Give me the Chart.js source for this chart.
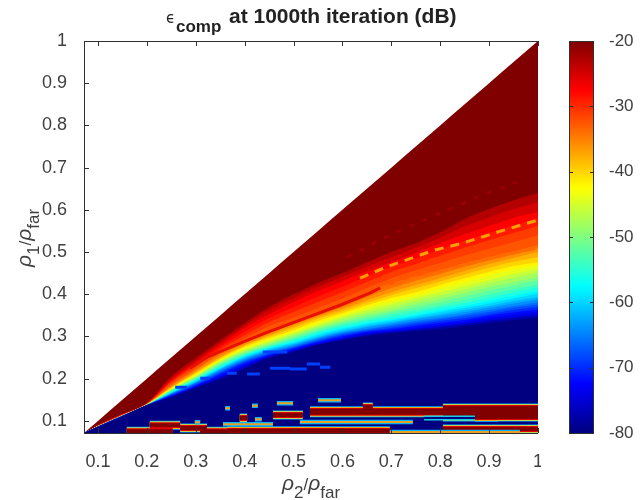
<!DOCTYPE html>
<html><head><meta charset="utf-8">
<script src="https://cdn.jsdelivr.net/npm/chart.js@4"></script>
<style>html,body{margin:0;padding:0;background:#fff;overflow:hidden}
canvas{position:absolute;top:0;filter:blur(0.4px)}#m{left:0}#c{left:541px}</style></head>
<body><canvas id="m" width="541" height="500"></canvas><canvas id="c" width="100" height="500"></canvas>
<script>
const xTicks=[0.1,0.2,0.3,0.4,0.5,0.6,0.7,0.8,0.9,1];
const yTicks=[0.1,0.2,0.3,0.4,0.5,0.6,0.7,0.8,0.9,1];
const cbarTicks=[-80,-70,-60,-50,-40,-30,-20];
const columns=[0.0714,0.1,0.15,0.2,0.25,0.3,0.35,0.4,0.45,0.5,0.55,0.6,0.65,0.7,0.75,0.8,0.85,0.9,0.95,1];
const diagonal=[0.0714,0.1,0.15,0.2,0.25,0.3,0.35,0.4,0.45,0.5,0.55,0.6,0.65,0.7,0.75,0.8,0.85,0.9,0.95,1];
const levelDb=[-23,-25,-27.5,-29,-31,-32.5,-34,-36,-38,-40,-42,-44,-46,-48,-50,-52,-54,-56,-58,-60,-62,-64,-66,-68,-70,-72,-74,-77,-80];
const c23=[.0714,.090,.116,.142,.206,.249,.291,.332,.370,.400,.427,.450,.476,.500,.521,.547,.578,.602,.623,.640];
const c25=[.0714,.090,.116,.142,.202,.244,.286,.326,.362,.391,.418,.441,.466,.488,.510,.534,.561,.582,.602,.618];
const c27=[.0714,.090,.116,.142,.197,.239,.280,.320,.353,.382,.408,.431,.455,.476,.498,.521,.543,.562,.581,.595];
const c29=[.0714,.089,.115,.141,.195,.236,.275,.312,.344,.370,.395,.418,.442,.465,.485,.506,.527,.545,.563,.579];
const c31=[.0714,.088,.114,.140,.192,.232,.270,.303,.334,.358,.382,.405,.429,.453,.472,.491,.510,.528,.545,.562];
const c32=[.0714,.088,.114,.140,.189,.228,.266,.295,.324,.345,.368,.390,.415,.438,.457,.474,.492,.508,.524,.540];
const c34=[.0714,.088,.114,.140,.185,.223,.261,.287,.313,.332,.353,.374,.400,.422,.441,.457,.474,.488,.502,.517];
const c36=[.0714,.088,.114,.140,.183,.220,.256,.284,.308,.329,.350,.370,.393,.414,.432,.448,.465,.480,.494,.509];
const c38=[.0714,.088,.113,.139,.180,.216,.251,.280,.303,.325,.346,.365,.386,.405,.422,.438,.455,.472,.486,.500];
const c40=[.0714,.088,.113,.139,.179,.214,.249,.278,.300,.320,.342,.360,.380,.398,.414,.430,.447,.463,.477,.488];
const c42=[.0714,.088,.113,.139,.178,.211,.246,.275,.296,.315,.337,.355,.374,.391,.405,.422,.438,.453,.467,.476];
const c44=[.0714,.088,.113,.139,.177,.209,.244,.272,.293,.312,.332,.351,.369,.384,.398,.414,.429,.444,.458,.468];
const c46=[.0714,.088,.113,.139,.175,.206,.242,.268,.289,.308,.327,.346,.363,.377,.391,.405,.419,.434,.448,.460];
const c48=[.0714,.087,.112,.138,.174,.205,.240,.266,.286,.305,.324,.342,.357,.370,.384,.397,.411,.426,.439,.451];
const c50=[.0714,.087,.112,.138,.173,.204,.237,.263,.282,.301,.320,.337,.351,.363,.377,.389,.403,.417,.429,.441];
const c52=[.0714,.087,.112,.138,.172,.202,.235,.261,.280,.298,.317,.333,.346,.358,.370,.382,.395,.409,.421,.433];
const c54=[.0714,.087,.112,.138,.171,.199,.232,.258,.277,.294,.313,.329,.341,.353,.363,.374,.386,.400,.412,.424];
const c56=[.0714,.087,.112,.138,.170,.198,.230,.256,.275,.291,.310,.325,.337,.347,.357,.369,.379,.392,.404,.416];
const c58=[.0714,.087,.112,.138,.168,.197,.227,.254,.273,.287,.306,.320,.332,.341,.351,.363,.372,.384,.396,.408];
const c60=[.0714,.087,.112,.138,.167,.195,.225,.252,.271,.285,.303,.317,.329,.338,.348,.358,.368,.378,.390,.401];
const c62=[.0714,.087,.112,.138,.166,.192,.223,.249,.268,.282,.299,.313,.325,.334,.344,.353,.363,.372,.384,.393];
const c64=[.0714,.087,.112,.138,.165,.191,.221,.247,.266,.280,.297,.311,.322,.331,.341,.349,.358,.368,.378,.388];
const c66=[.0714,.087,.112,.137,.164,.190,.218,.244,.263,.277,.294,.308,.318,.327,.337,.344,.353,.363,.372,.382];
const c68=[.0714,.087,.112,.137,.163,.188,.216,.242,.261,.275,.292,.306,.316,.324,.333,.341,.349,.358,.368,.376];
const c70=[.0714,.086,.111,.137,.161,.185,.213,.239,.258,.273,.289,.303,.313,.320,.329,.337,.344,.353,.363,.370];
const c72=[.0714,.086,.111,.137,.160,.184,.210,.236,.256,.271,.287,.300,.311,.317,.325,.332,.339,.349,.357,.364];
const c74=[.0714,.086,.111,.137,.159,.182,.206,.232,.254,.268,.284,.296,.308,.313,.320,.327,.334,.344,.351,.358];
const c77=[.0714,.086,.111,.137,.158,.180,.203,.228,.252,.266,.282,.294,.305,.311,.317,.323,.330,.338,.345,.351];
const c80=[.0714,.086,.111,.137,.156,.178,.199,.223,.249,.263,.280,.292,.301,.308,.313,.318,.325,.332,.339,.344];
const contours=[c23,c25,c27,c29,c31,c32,c34,c36,c38,c40,c42,c44,c46,c48,c50,c52,c54,c56,c58,c60,c62,c64,c66,c68,c70,c72,c74,c77,c80];
// ridges inside the gradient: [x,y]
const ridgeBright=[[.636,.438],[.691,.465],[.789,.505],[.846,.521],[.916,.547],[1,.576]];
const ridgeOrange=[[.677,.415],[.744,.438],[.834,.465],[.908,.488],[1,.51]];
const ridgeRed=[[.288,.225],[.323,.251],[.397,.287],[.446,.310],[.513,.339],[.595,.374],[.656,.403],[.677,.415]];
const ridgeFaint=[[.609,.488],[.697,.540],[.799,.592],[.887,.635],[.957,.666]];
// dashes and patches: [x0,x1,y]
const blueDashes=[[.364,.384,.213],[.405,.431,.211],[.452,.493,.225],[.493,.527,.223],[.527,.554,.235],[.554,.575,.227],[.309,.329,.201],[.258,.282,.180],[.437,.487,.263]];
const thinPatches=[[.513,.744,.0972],[.3557,.458,.0924],[.550,.597,.149],[.466,.499,.142],[.421,.435,.104],[.298,.309,.097],[.697,.963,.0735],[.415,.427,.136],[.360,.370,.130]];
const redPatches=[[.364,.697,.077],[.8056,1,.0806],[.871,.918,.109],[.159,.253,.0758],[.309,.364,.0758],[.206,.268,.090],[.268,.323,.083],[.458,.519,.114],[.390,.405,.107],[.642,.662,.133]];
const midPatches=[[.5336,.8056,.1220]];
const wideBand=[[.8056,1,.1197]];
const holeBand=[[.767,.871,.107]];

function jet(db){const t=(db+80)/60;const f=v=>Math.round(255*Math.max(0,Math.min(1,1.5-Math.abs(4*t-v))));return `rgb(${f(3)},${f(2)},${f(1)})`;}
const pts=(ys)=>columns.map((x,i)=>({x,y:ys[i]}));
const segs=(list)=>{const o=[];list.forEach(s=>{o.push({x:s[0],y:s[2]},{x:s[1],y:s[2]},{x:s[1],y:null});});return o;};
const pairs=l=>l.map(p=>({x:p[0],y:p[1]}));
const layers=[];
const fillLayer=(data,color)=>layers.push({data,fill:'start',backgroundColor:color,borderWidth:0,pointRadius:0,cubicInterpolationMode:'monotone'});
const lineLayer=(data,color,w,dash)=>layers.push({data,fill:false,borderColor:color,borderWidth:w,borderDash:dash||[],borderCapStyle:'butt',pointRadius:0,spanGaps:false});
fillLayer(pts(diagonal),jet(-20));
contours.forEach((c,i)=>fillLayer(pts(c),jet(levelDb[i])));
lineLayer(pairs(ridgeFaint),'#a00000',2,[5,9]);
lineLayer(pairs(ridgeBright),'#ffa000',3,[9,7]);
lineLayer(pairs(ridgeOrange),'#ff6a00',3,[10,5]);
lineLayer(pairs(ridgeRed),'#e81000',3);
lineLayer(segs(blueDashes),'#0040ff',3);
[[wideBand,14],[midPatches,7],[redPatches,5]].forEach(([l,w])=>lineLayer(segs(l),'#00b4ff',w+4));
[[wideBand,14],[midPatches,7],[redPatches,5]].forEach(([l,w])=>lineLayer(segs(l),'#f0e020',w+2.5));
[[wideBand,14],[midPatches,7],[redPatches,5]].forEach(([l,w])=>lineLayer(segs(l),'#e80000',w+1));
[[wideBand,14],[midPatches,7],[redPatches,5]].forEach(([l,w])=>lineLayer(segs(l),'#800000',w-1));
lineLayer(segs(holeBand),'#10d0e0',5);
lineLayer(segs(holeBand),'#000080',2);
lineLayer(segs(thinPatches),'#00b4ff',4.5);
lineLayer(segs(thinPatches),'#e8a020',2);
const ordered=layers.slice().reverse();

const INK='#404040',FONT='"Liberation Sans",Arial,sans-serif';
function text(ctx,s,x,y,font,color){ctx.font=font;ctx.fillStyle=color;ctx.fillText(s,x,y);return ctx.measureText(s).width;}
function ratioLabel(ctx,num,x,y){
  let p=x;
  p+=text(ctx,'ρ',p,y,'italic 21px '+FONT,INK);
  p+=text(ctx,num,p,y+8,'17px '+FONT,INK);
  p+=text(ctx,'/',p,y,'17px '+FONT,INK);
  p+=text(ctx,'ρ',p,y,'italic 21px '+FONT,INK);
  text(ctx,'far',p,y+8,'17px '+FONT,INK);
}
const frame={id:'frame',afterDatasetsDraw(ch){
  const {ctx,chartArea:a,scales:{x,y}}=ch;ctx.save();
  ctx.strokeStyle='#303030';ctx.lineWidth=1;ctx.beginPath();
  ctx.moveTo(a.left+.5,a.bottom);ctx.lineTo(a.left+.5,a.top+.5);ctx.lineTo(a.right,a.top+.5);
  ctx.moveTo(a.left,a.bottom+.5);ctx.lineTo(a.right,a.bottom+.5);
  xTicks.forEach(v=>{const p=Math.round(x.getPixelForValue(v))+.5;ctx.moveTo(p,a.top);ctx.lineTo(p,a.top+5);ctx.moveTo(p,a.bottom);ctx.lineTo(p,a.bottom-5);});
  yTicks.forEach(v=>{const p=Math.round(y.getPixelForValue(v))+.5;ctx.moveTo(a.left,p);ctx.lineTo(a.left+5,p);});
  ctx.stroke();
  ctx.textBaseline='alphabetic';ctx.textAlign='left';
  text(ctx,'ϵ',166,23,'15px "DejaVu Sans",'+FONT,'#222');
  text(ctx,'comp',176,32,'bold 17px '+FONT,'#222');
  text(ctx,'at 1000th iteration (dB)',229,23,'bold 21px '+FONT,'#222');
  ratioLabel(ctx,'2',282,490);
  ctx.translate(31,267);ctx.rotate(-Math.PI/2);ratioLabel(ctx,'1',0,0);
  ctx.restore();
}};
new Chart(document.getElementById('m'),{type:'line',data:{datasets:ordered},plugins:[frame],options:{
  responsive:false,animation:false,
  layout:{padding:{top:41,right:3,left:0,bottom:0}},
  plugins:{legend:{display:false},tooltip:{enabled:false},title:{display:false}},
  scales:{
    x:{type:'linear',min:0.0714,max:1,afterFit(s){s.height=67;s.paddingLeft=0;s.paddingRight=0;},afterBuildTicks(s){s.ticks=xTicks.map(value=>({value}));},
      grid:{display:false},border:{display:false},
      ticks:{color:INK,font:{family:FONT,size:18},padding:10,maxRotation:0,autoSkip:false,callback:v=>String(v)}},
    y:{type:'linear',min:0.0714,max:1,afterFit(s){s.width=84;s.paddingTop=0;s.paddingBottom=0;},afterBuildTicks(s){s.ticks=yTicks.map(value=>({value}));},
      grid:{display:false},border:{display:false},
      ticks:{color:INK,font:{family:FONT,size:18},padding:9,autoSkip:false,callback:v=>String(v)}}
  }}});

const cbarBox={id:'cbarBox',afterDatasetsDraw(ch){
  const {ctx,chartArea:a,scales:{y}}=ch;ctx.save();ctx.strokeStyle='#303030';ctx.lineWidth=1;
  ctx.strokeRect(a.left+.5,a.top+.5,a.right-a.left-1,a.bottom-a.top);
  ctx.beginPath();cbarTicks.forEach(v=>{const p=Math.round(y.getPixelForValue(v))+.5;ctx.moveTo(a.right,p);ctx.lineTo(a.right-4,p);ctx.moveTo(a.left,p);ctx.lineTo(a.left+4,p);});ctx.stroke();ctx.restore();
}};
const cbarStops=[-80,-72.5,-57.5,-42.5,-27.5,-20];
new Chart(document.getElementById('c'),{type:'bar',
  data:{labels:['dB'],datasets:[{data:[[-80,-20]],barPercentage:1,categoryPercentage:1,
    backgroundColor(ctx){const a=ctx.chart.chartArea;if(!a)return '#000';
      const g=ctx.chart.ctx.createLinearGradient(0,a.bottom,0,a.top);
      cbarStops.forEach(d=>g.addColorStop((d+80)/60,jet(d)));return g;}}]},
  plugins:[cbarBox],
  options:{responsive:false,animation:false,layout:{padding:{top:41,left:28,right:0,bottom:67}},
    plugins:{legend:{display:false},tooltip:{enabled:false}},
    scales:{x:{display:false},
      y:{position:'right',min:-80,max:-20,afterFit(s){s.width=47;s.paddingTop=0;s.paddingBottom=0;},afterBuildTicks(s){s.ticks=cbarTicks.map(value=>({value}));},
        grid:{display:false},border:{display:false},
        ticks:{color:INK,font:{family:FONT,size:17},padding:7,autoSkip:false,callback:v=>String(v)}}}}});
</script></body></html>
